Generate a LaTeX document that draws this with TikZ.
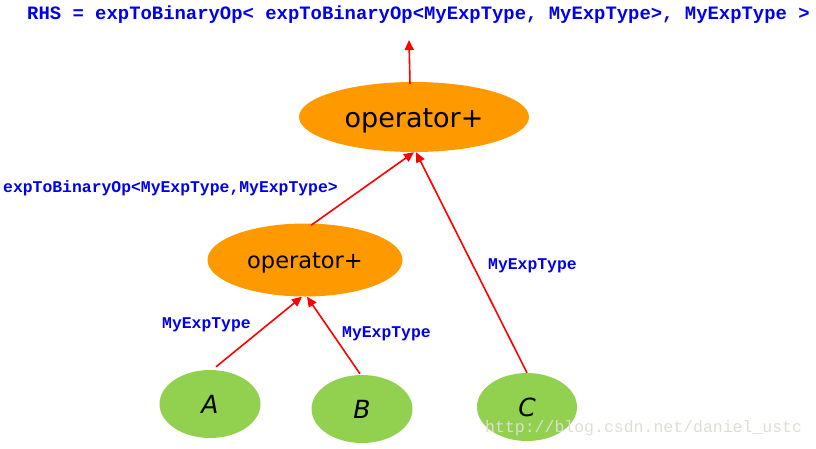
\documentclass[tikz,border=0pt]{standalone}
\usepackage{fontspec}
\setmainfont{DejaVu Sans}
\newfontfamily\codefont{Liberation Mono}
\newfontfamily\markfont{Liberation Mono}
\usetikzlibrary{shapes.geometric,arrows.meta}
\definecolor{opfill}{RGB}{255,153,0}
\definecolor{leaffill}{RGB}{146,208,80}
\definecolor{codeblue}{RGB}{0,0,235}
\definecolor{edgered}{RGB}{255,0,0}
\definecolor{wmgrey}{RGB}{222,222,214}
\tikzset{
  opnode/.style={ellipse, fill=opfill, inner sep=0pt, text=black},
  leafnode/.style={ellipse, fill=leaffill, inner sep=0pt, minimum width=101pt, minimum height=68pt, font=\fontsize{25}{28}\selectfont\itshape},
  codelabel/.style={anchor=west, inner sep=0pt, text=codeblue, font=\codefont\bfseries},
  edge/.style={draw=edgered, line width=1.6pt, -{Triangle[length=10pt,width=9pt]}}
}
\begin{document}
\begin{tikzpicture}[x=1pt,y=-1pt]
\useasboundingbox (0,0) rectangle (816,448);
% nodes
\node[opnode, minimum width=230pt, minimum height=70pt, font=\fontsize{27}{30}\selectfont] (top) at (414,117) {\raisebox{0pt}[\dimexpr\height+7pt\relax]{operator+}};
\node[opnode, minimum width=195pt, minimum height=73pt, font=\fontsize{22.5}{26}\selectfont] (mid) at (305,260) {\raisebox{0pt}[\dimexpr\height+5pt\relax]{operator+}};
\node[leafnode] (A) at (210,404) {A};
\node[leafnode] (B) at (362,409) {B};
\node[leafnode, minimum width=100pt] (C) at (527,407) {C};
\coordinate (out) at (409,40);
% labels
\node[codelabel, font=\codefont\bfseries\fontsize{18.9}{20}\selectfont] (rhs) at (27,15) {RHS = expToBinaryOp< expToBinaryOp<MyExpType, MyExpType>, MyExpType >};
\node[codelabel, font=\codefont\bfseries\fontsize{16.4}{18}\selectfont] (lmid) at (3,188) {expToBinaryOp<MyExpType,MyExpType>};
\node[codelabel, font=\codefont\bfseries\fontsize{16.4}{18}\selectfont] (la) at (162,325) {MyExpType};
\node[codelabel, font=\codefont\bfseries\fontsize{16.4}{18}\selectfont] (lb) at (342,334) {MyExpType};
\node[codelabel, font=\codefont\bfseries\fontsize{16.4}{18}\selectfont] (lc) at (488,266) {MyExpType};
\node[anchor=west, inner sep=0pt, text=wmgrey, font=\markfont\fontsize{16.5}{18}\selectfont] (wm) at (485,428) {http://blog.csdn.net/daniel\_ustc};
% edges
\draw[edge] ([xshift=-4pt,yshift=-2pt]top.north) -- (out);
\draw[edge] ([xshift=6pt,yshift=-2pt]mid.north) -- (top.south);
\draw[edge] (C.north) -- ([xshift=2pt]top.south);
\draw[edge] ([xshift=6pt,yshift=3pt]A.north) -- ([xshift=-3pt]mid.south);
\draw[edge] ([xshift=-2pt,yshift=1pt]B.north) -- ([xshift=2pt]mid.south);
\end{tikzpicture}
\end{document}
